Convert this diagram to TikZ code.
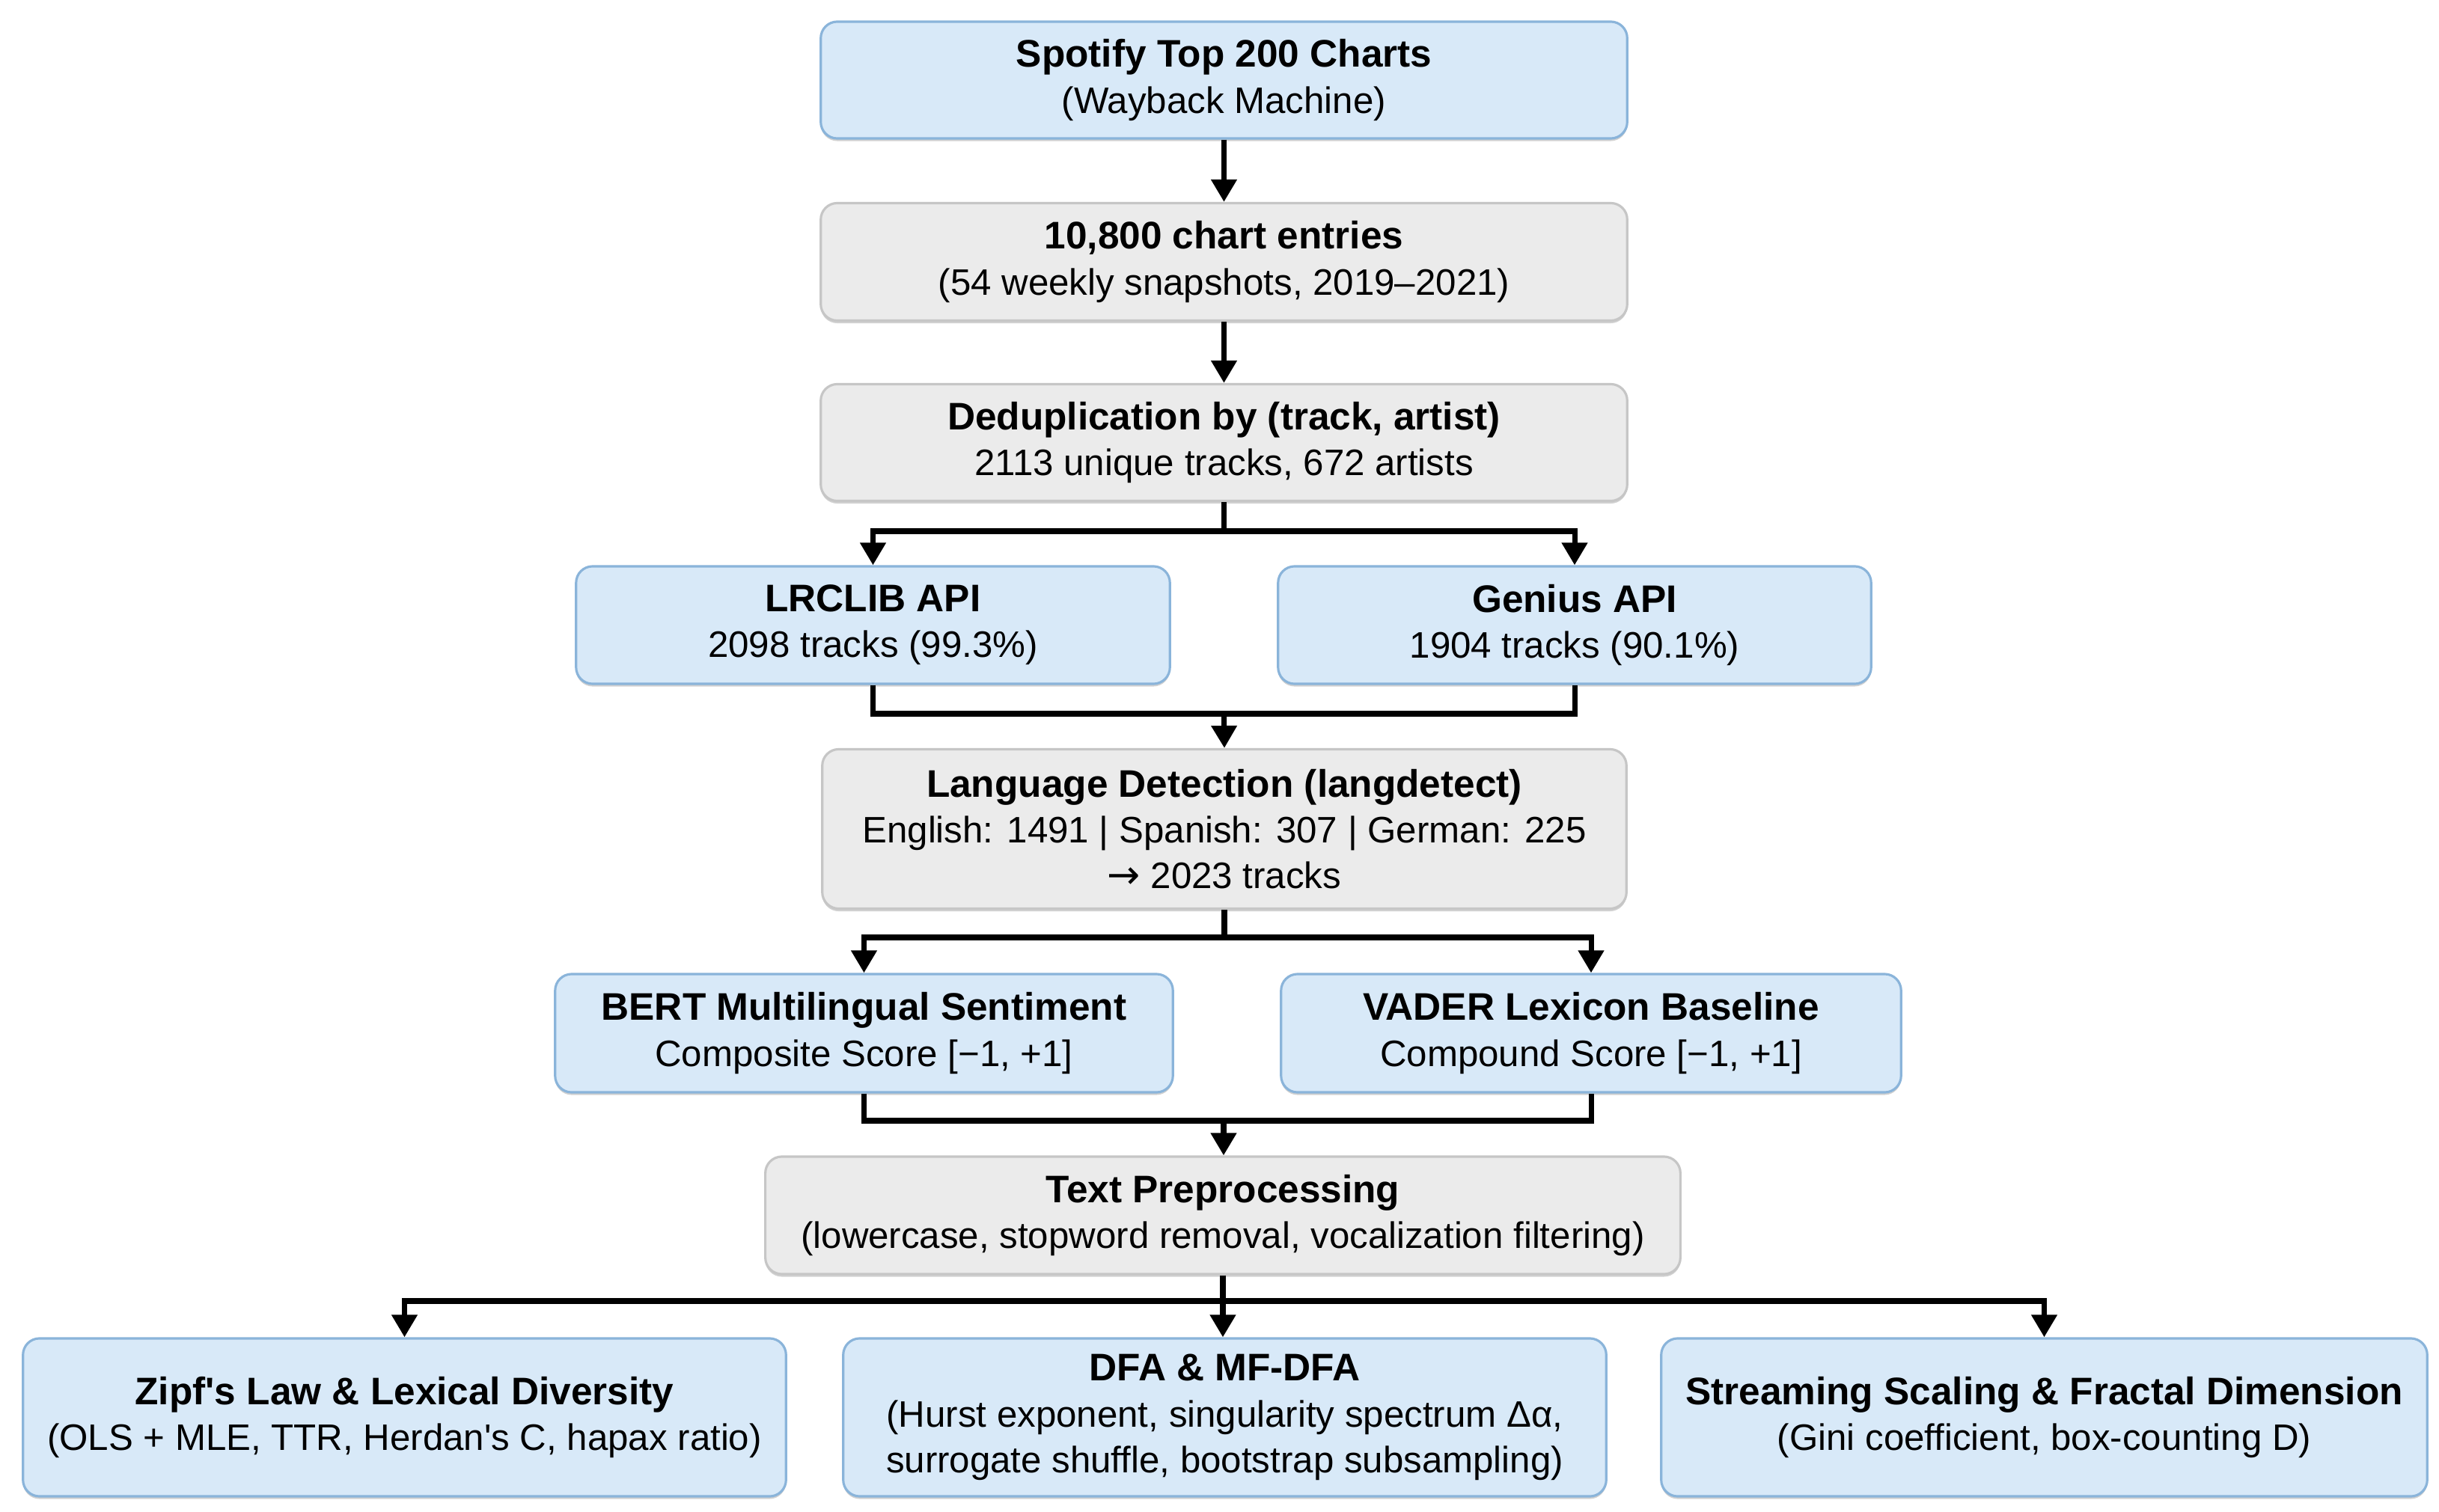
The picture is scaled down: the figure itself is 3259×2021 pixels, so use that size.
\documentclass[tikz,border=0pt]{standalone}
\usepackage{fontspec}
\setmainfont{Liberation Sans}[Ligatures=TeXOff]
\newfontfamily\djv{DejaVu Sans}
\usetikzlibrary{arrows.meta,shadows}
\definecolor{bluefill}{HTML}{D8E9F8}
\definecolor{blueline}{HTML}{8AB4DA}
\definecolor{grayfill}{HTML}{EBEBEB}
\definecolor{grayline}{HTML}{C6C6C6}
\newcommand{\ttl}[1]{{\fontsize{14.6}{17.4}\selectfont\bfseries #1}}
\begin{document}
\begin{tikzpicture}[x=0.01cm,y=-0.01cm,
  box/.style={rounded corners=0.22cm,line width=0.9pt,align=center,inner sep=0pt,
    font=\fontsize{14}{17.4}\selectfont,
    drop shadow={shadow xshift=0pt,shadow yshift=-0.035cm,opacity=0.18,fill=black}},
  bluebox/.style={box,fill=bluefill,draw=blueline},
  graybox/.style={box,fill=grayfill,draw=grayline},
  conn/.style={line width=2pt,black},
  arr/.style={conn,-{Triangle[width=9.4pt,length=8.5pt]}}]
\useasboundingbox (0,0) rectangle (3259,2021);
\fill[white] (0,0) rectangle (3259,2021);

\node[bluebox,minimum width=10.77cm,minimum height=1.56cm] (spot) at (1635.5,107)
  {\ttl{Spotify Top 200 Charts}\\(Wayback Machine)};
\node[graybox,minimum width=10.77cm,minimum height=1.57cm] (entries) at (1635.5,350)
  {\ttl{10,800 chart entries}\\(54 weekly snapshots, 2019–2021)};
\node[graybox,minimum width=10.77cm,minimum height=1.56cm] (dedup) at (1635.5,591.5)
  {\ttl{Deduplication by (track, artist)}\\2113 unique tracks, 672 artists};
\node[bluebox,minimum width=7.93cm,minimum height=1.57cm] (lrc) at (1166.5,835.5)
  {\ttl{LRCLIB API}\\2098 tracks (99.3\%)};
\node[bluebox,minimum width=7.92cm,minimum height=1.57cm] (gen) at (2104,835.5)
  {\ttl{Genius API}\\1904 tracks (90.1\%)};
\node[graybox,minimum width=10.74cm,minimum height=2.13cm] (lang) at (1636,1108)
  {\ttl{Language Detection (langdetect)}\\English: 1491 | Spanish: 307 | German: 225\\{\djv\fontsize{15}{17.4}\selectfont →}\ 2023 tracks};
\node[bluebox,minimum width=8.25cm,minimum height=1.58cm] (bert) at (1154.5,1381)
  {\ttl{BERT Multilingual Sentiment}\\Composite Score [−1, +1]};
\node[bluebox,minimum width=8.28cm,minimum height=1.58cm] (vader) at (2126,1381)
  {\ttl{VADER Lexicon Baseline}\\Compound Score [−1, +1]};
\node[graybox,minimum width=12.22cm,minimum height=1.57cm] (prep) at (1634,1624.5)
  {\ttl{Text Preprocessing}\\(lowercase, stopword removal, vocalization filtering)};
\node[bluebox,minimum width=10.19cm,minimum height=2.11cm] (zipf) at (540.5,1894.5)
  {\ttl{Zipf's Law \& Lexical Diversity}\\(OLS + MLE, TTR, Herdan's C, hapax ratio)};
\node[bluebox,minimum width=10.19cm,minimum height=2.11cm] (dfa) at (1636.5,1894.5)
  {\ttl{DFA \& MF-DFA}\\(Hurst exponent, singularity spectrum Δα,\\surrogate shuffle, bootstrap subsampling)};
\node[bluebox,minimum width=10.23cm,minimum height=2.11cm] (stream) at (2731.5,1894.5)
  {\ttl{Streaming Scaling \& Fractal Dimension}\\(Gini coefficient, box-counting D)};

\coordinate (b1) at (1635.5,710);
\coordinate (b2) at (1635.5,954);
\coordinate (b3) at (1636,1253);
\coordinate (b4) at (1635,1498);
\coordinate (b5) at (1634,1739);

\draw[arr] (spot.south) -- (entries.north);
\draw[arr] (entries.south) -- (dedup.north);

\draw[conn] (dedup.south) -- (b1);
\draw[arr] (b1) -| (lrc.north);
\draw[arr] (b1) -| (gen.north);

\draw[conn] (lrc.south) |- (b2) -| (gen.south);
\draw[arr] (b2) -- (lang.north);

\draw[conn] (lang.south) -- (b3);
\draw[arr] (b3) -| (bert.north);
\draw[arr] (b3) -| (vader.north);

\draw[conn] (bert.south) |- (b4) -| (vader.south);
\draw[arr] (b4) -- (b4|-prep.north);

\draw[conn] (prep.south) -- (b5);
\draw[arr] (b5) -| (zipf.north);
\draw[arr] (b5) -- (b5|-dfa.north);
\draw[arr] (b5) -| (stream.north);
\end{tikzpicture}
\end{document}
